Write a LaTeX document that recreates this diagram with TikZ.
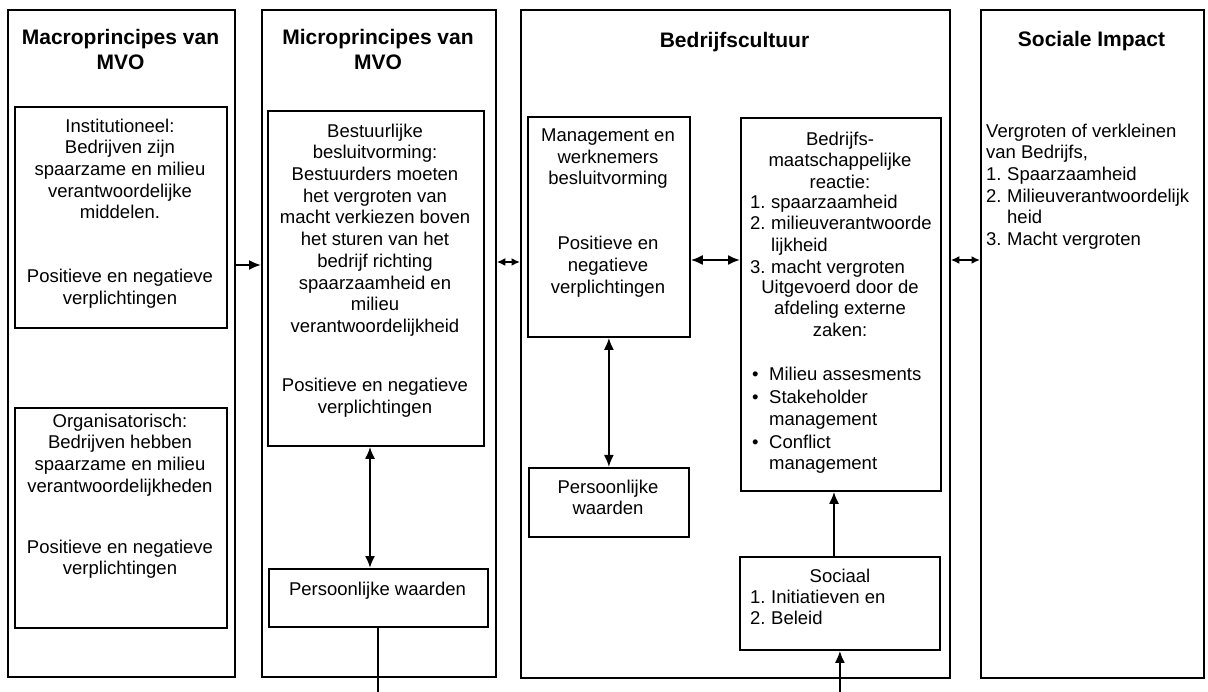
\documentclass[tikz,border=0pt]{standalone}
\usepackage{fontspec}
\setmainfont{Liberation Sans}
\usetikzlibrary{arrows.meta,calc}

% rectangle given by its top-left corner, width and height (in pt, y downwards)
\newcommand\mkbox[5]{\node[panel, minimum width=#4pt, minimum height=#5pt] (#1) at (#2,#3) {};}
\newcommand\num[1]{\makebox[21pt][l]{#1}}
\newcommand\bul{\makebox[17pt][l]{•}}
\newcommand\bulgap{\makebox[17pt][l]{}}

\begin{document}
\begin{tikzpicture}[x=1pt,y=-1pt,
  panel/.style={draw, line width=1.8pt, inner sep=0pt, anchor=north west},
  body/.style={font=\fontsize{18.5}{21.7}\selectfont, inner sep=0pt, align=center, anchor=north},
  listtext/.style={font=\fontsize{18.5}{21.7}\selectfont, inner sep=0pt, align=left, anchor=north west},
  heading/.style={font=\fontsize{21}{25}\selectfont\bfseries, inner sep=0pt, align=center, anchor=north},
  link/.style={line width=1.9pt},
  oneway/.style={link, -{Latex[length=12pt,width=10pt]}},
  twoway/.style={link, {Latex[length=12pt,width=10pt]}-{Latex[length=12pt,width=10pt]}},
  shortway/.style={link, {Latex[length=8.5pt,width=8pt]}-{Latex[length=8.5pt,width=8pt]}}
]
\useasboundingbox (0,0) rectangle (1208,692);

% outer columns
\mkbox{macro}{7}{9}{227}{667}
\mkbox{micro}{261}{9}{234}{667}
\mkbox{cult}{520}{9}{429}{668}
\mkbox{impact}{980}{9}{223}{668}

% inner boxes
\mkbox{inst}{14}{106}{212}{221}
\mkbox{org}{14}{407}{212}{220}
\mkbox{bestuur}{267}{110}{216}{335}
\mkbox{pwmicro}{268}{568}{219}{58}
\mkbox{mgmt}{527}{116}{162}{220}
\mkbox{pwcult}{528}{467}{160}{69}
\mkbox{react}{740}{117}{200}{373}
\mkbox{sociaal}{739}{556}{200}{93}

% column headings
\node[heading] (hmacro) at (120.5,29) {Macroprincipes van\\MVO};
\node[heading] (hmicro) at (378,29) {Microprincipes van\\MVO};
\node[heading] (hcult) at (734.5,32) {Bedrijfscultuur};
\node[heading] (himpact) at (1091.5,31) {Sociale Impact};

% texts of the boxes
\node[body] (tinst) at (120,118.5) {Institutioneel:\\Bedrijven zijn\\spaarzame en milieu\\verantwoordelijke\\middelen.\\[42.3pt]Positieve en negatieve\\verplichtingen};
\node[body] (torg) at (120,413.5) {Organisatorisch:\\Bedrijven hebben\\spaarzame en milieu\\verantwoordelijkheden\\[39.3pt]Positieve en negatieve\\verplichtingen};
\node[body] (tbestuur) at (375,123.5) {Bestuurlijke\\besluitvorming:\\Bestuurders moeten\\het vergroten van\\macht verkiezen boven\\het sturen van het\\bedrijf richting\\spaarzaamheid en\\milieu\\verantwoordelijkheid\\[37.3pt]Positieve en negatieve\\verplichtingen};
\node[body] (tpwmicro) at (377.5,581.5) {Persoonlijke waarden};
\node[body] (tmgmt) at (608,128.5) {Management en\\werknemers\\besluitvorming\\[43.3pt]Positieve en\\negatieve\\verplichtingen};
\node[body] (tpwcult) at (608,479.5) {Persoonlijke\\waarden};
\node[body] (treacthead) at (840,131.5) {Bedrijfs-\\maatschappelijke\\reactie:};
\node[listtext] (treactlist) at (750,194.5) {\num{1.}spaarzaamheid\\\num{2.}milieuverantwoorde\\\num{}lijkheid\\\num{3.}macht vergroten};
\node[body] (treactmid) at (840,279.5) {Uitgevoerd door de\\afdeling externe\\zaken:};
\node[listtext] (treactbul) at (752,366.5) {\bul Milieu assesments\\[1.5pt]\bul Stakeholder\\\bulgap management\\[1.5pt]\bul Conflict\\\bulgap management};
\node[body] (tsochead) at (840,568.5) {Sociaal};
\node[listtext] (tsoclist) at (750,589.5) {\num{1.}Initiatieven en\\\num{2.}Beleid};
\node[listtext] (timpact) at (986,123.5) {Vergroten of verkleinen\\van Bedrijfs,\\\num{1.}Spaarzaamheid\\\num{2.}Milieuverantwoordelijk\\\num{}heid\\\num{3.}Macht vergroten};

% connector levels
\coordinate (row1) at (0,265);
\coordinate (row2) at (0,262);
\coordinate (row3) at (0,260);
\coordinate (col1) at (370,0);
\coordinate (col2) at (834,0);
\coordinate (base) at (0,692);

% connectors
\draw[oneway] (macro.east |- row1) -- (micro.west |- row1);
\draw[shortway] (micro.east |- row2) -- (cult.west |- row2);
\draw[twoway] (mgmt.east |- row3) -- (react.west |- row3);
\draw[shortway] (cult.east |- row3) -- (impact.west |- row3);
\draw[twoway] (col1 |- bestuur.south) -- (col1 |- pwmicro.north);
\draw[twoway] (mgmt.south) -- (pwcult.north);
\draw[oneway] (col2 |- sociaal.north) -- (col2 |- react.south);
\draw[link] (pwmicro.south) -- (pwmicro.south |- base);
\draw[oneway] (sociaal.south |- base) -- (sociaal.south);
\end{tikzpicture}
\end{document}
